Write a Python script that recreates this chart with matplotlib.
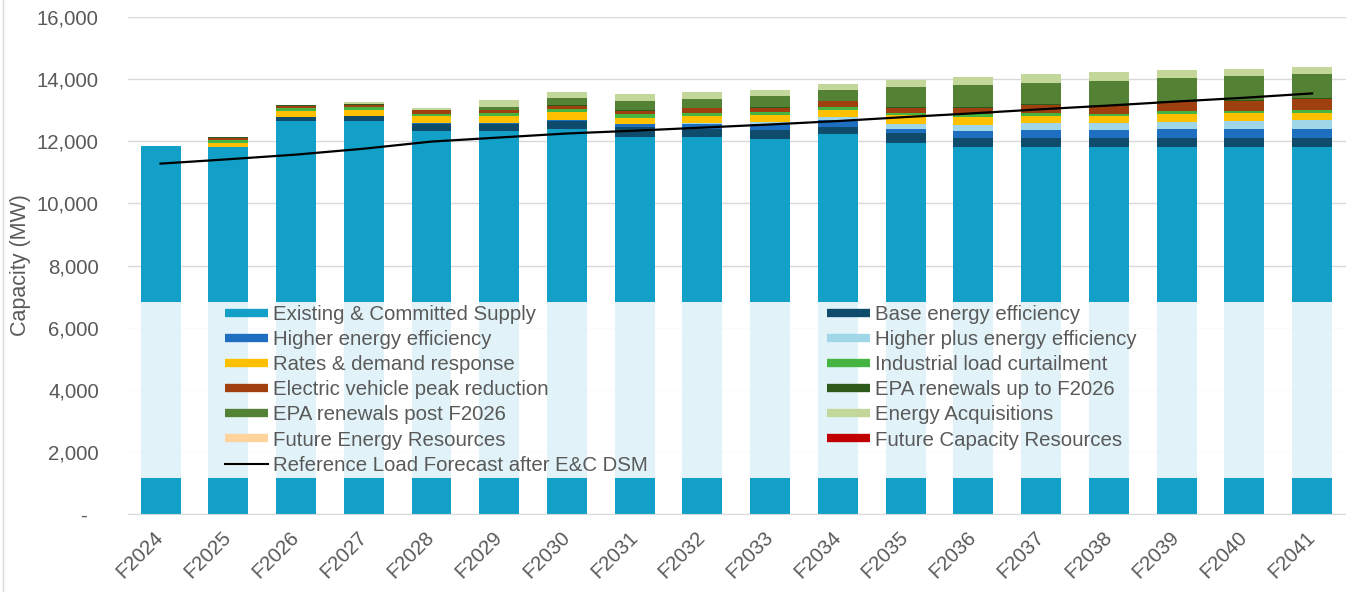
import numpy as np
import matplotlib.pyplot as plt
from matplotlib.lines import Line2D
from matplotlib.patches import Rectangle
from matplotlib.ticker import FuncFormatter

plt.rcParams['font.family'] = ['Liberation Sans', 'DejaVu Sans']

years = ['F2024', 'F2025', 'F2026', 'F2027', 'F2028', 'F2029', 'F2030', 'F2031', 'F2032',
         'F2033', 'F2034', 'F2035', 'F2036', 'F2037', 'F2038', 'F2039', 'F2040', 'F2041']

# capacity components (MW)
existing = [11850, 11800, 12640, 12650, 12330, 12330, 12380, 12140, 12140,
            12080, 12240, 11950, 11820, 11820, 11820, 11820, 11820, 11820]
base_ee = [0, 30, 130, 150, 230, 215, 280, 320, 270, 270, 215, 320, 300, 300, 300, 300, 300, 300]
higher_ee = [0, 0, 20, 20, 40, 40, 40, 85, 140, 215, 215, 140, 215, 235, 235, 260, 260, 260]
higher_plus_ee = [0, 0, 0, 0, 0, 0, 0, 0, 45, 55, 110, 140, 180, 235, 235, 250, 280, 300]
rates_dr = [0, 110, 190, 195, 220, 235, 250, 215, 215, 235, 235, 290, 270, 215, 215, 250, 235, 235]
industrial = [0, 90, 80, 85, 60, 95, 85, 105, 85, 85, 85, 75, 85, 110, 85, 95, 75, 85]
ev_peak = [0, 80, 60, 70, 110, 75, 95, 105, 160, 140, 180, 170, 215, 250, 235, 300, 330, 375]
epa_to_2026 = [0, 30, 50, 40, 30, 30, 30, 30, 30, 30, 30, 30, 30, 30, 30, 30, 30, 30]
epa_post_2026 = [0, 0, 0, 0, 0, 85, 240, 290, 260, 345, 345, 635, 690, 690, 785, 720, 765, 755]
energy_acq = [0, 0, 0, 65, 40, 237, 190, 230, 250, 205, 195, 215, 270, 280, 275, 270, 225, 235]
future_energy = [0] * 18
future_capacity = [0] * 18

load_forecast = [11280, 11420, 11570, 11760, 11990, 12120, 12250, 12340, 12440,
                 12540, 12650, 12780, 12900, 13030, 13150, 13280, 13400, 13540]

series = [
    ('Existing & Committed Supply', existing, '#12a0c8'),
    ('Base energy efficiency', base_ee, '#0f4c6b'),
    ('Higher energy efficiency', higher_ee, '#1f6fc0'),
    ('Higher plus energy efficiency', higher_plus_ee, '#9fd6e8'),
    ('Rates & demand response', rates_dr, '#ffc000'),
    ('Industrial load curtailment', industrial, '#45b440'),
    ('Electric vehicle peak reduction', ev_peak, '#a0400f'),
    ('EPA renewals up to F2026', epa_to_2026, '#2d5a1b'),
    ('EPA renewals post F2026', epa_post_2026, '#548235'),
    ('Energy Acquisitions', energy_acq, '#c4d79b'),
    ('Future Energy Resources', future_energy, '#ffd39c'),
    ('Future Capacity Resources', future_capacity, '#c00000'),
]

grey = '#595959'
x = np.arange(len(years))

fig = plt.figure(figsize=(13.46, 5.92), dpi=100)
ax = fig.add_axes([128 / 1346, 1 - 514 / 592, 1 - 128 / 1346, 497 / 592])

bottom = np.zeros(len(years))
handles = {}
for name, vals, col in series:
    vals = np.array(vals, dtype=float)
    ax.bar(x, vals, 0.59, bottom=bottom, color=col, zorder=2)
    bottom += vals
    handles[name] = Line2D([], [], color=col, lw=6, solid_capstyle='butt')

ax.plot(x, load_forecast, color='black', lw=1.6, zorder=4)
handles['Reference Load Forecast after E&C DSM'] = Line2D([], [], color='black', lw=1.5)

# faded band behind the legend
ax.add_patch(Rectangle((0, 0.0724), 1, 0.354, transform=ax.transAxes,
                       facecolor='white', alpha=0.88, edgecolor='none', zorder=5))

ax.set_xlim(-0.48, 17.5)
ax.set_ylim(0, 16000)
ax.set_yticks(np.arange(0, 16001, 2000))
ax.yaxis.set_major_formatter(FuncFormatter(lambda v, p: '-  ' if v == 0 else f'{v:,.0f}'))
ax.grid(axis='y', color='#d9d9d9', lw=1, zorder=0)
ax.set_axisbelow(True)
for s in ['top', 'right', 'left']:
    ax.spines[s].set_visible(False)
ax.spines['bottom'].set_color('#d9d9d9')

ax.tick_params(axis='y', length=0, pad=21, labelsize=14.7, labelcolor=grey)
ax.tick_params(axis='x', length=0, pad=15, labelsize=14.7, labelcolor=grey)
ax.set_xticks(x)
ax.set_xticklabels(years, rotation=45, ha='right', va='center', rotation_mode='anchor')

ax.set_ylabel('Capacity (MW)', fontsize=15.5, color=grey)
ax.yaxis.set_label_coords(-0.08, 0.5)

left_col = ['Existing & Committed Supply', 'Higher energy efficiency', 'Rates & demand response',
            'Electric vehicle peak reduction', 'EPA renewals post F2026', 'Future Energy Resources',
            'Reference Load Forecast after E&C DSM']
right_col = ['Base energy efficiency', 'Higher plus energy efficiency', 'Industrial load curtailment',
             'EPA renewals up to F2026', 'Energy Acquisitions', 'Future Capacity Resources']
order = left_col + right_col
leg = fig.legend([handles[n] for n in order], order, ncol=2, loc='upper left',
                 bbox_to_anchor=(225 / 1346, 1 - 305 / 592), frameon=False,
                 fontsize=14.7, labelcolor=grey, handlelength=2.1, handletextpad=0.25,
                 labelspacing=0.3, columnspacing=8.8, borderpad=0, borderaxespad=0)
leg.set_zorder(6)

fig.add_artist(Line2D([3 / 1346, 3 / 1346], [0, 1], color='#d9d9d9', lw=1))

fig.savefig('out.png', dpi=100)
